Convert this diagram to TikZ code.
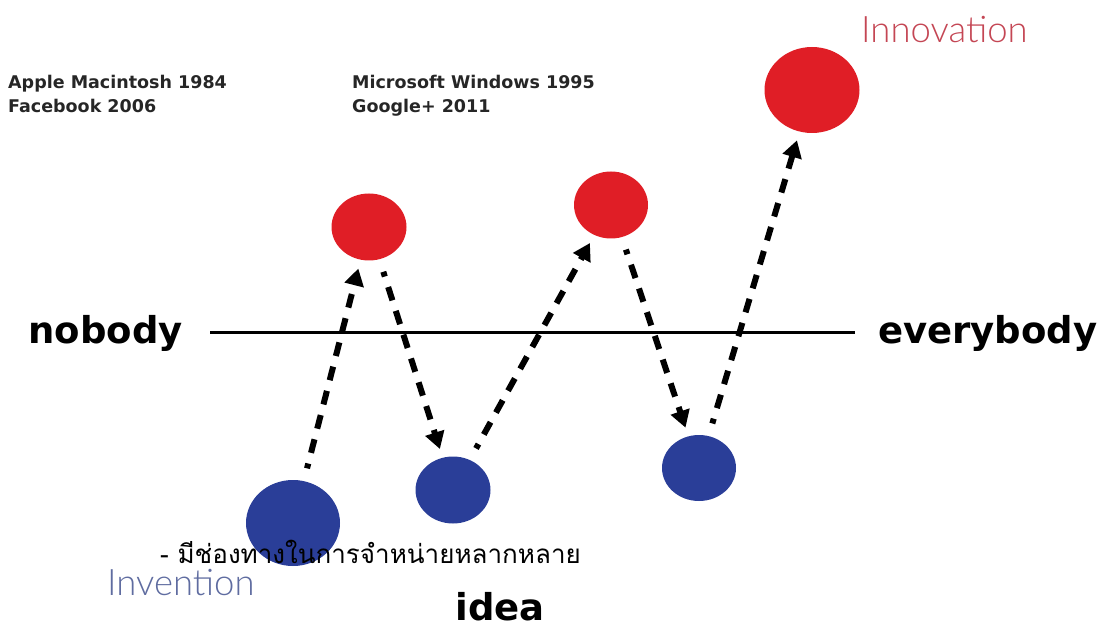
\documentclass[tikz,border=0pt]{standalone}
\usepackage{fontspec}
\setmainfont{Open Sans}
\newfontfamily\dejavu{DejaVu Sans}
\newfontfamily\thaifont[Script=Thai]{Loma}
\newfontfamily\lightfont{Lato Light}
\usetikzlibrary{arrows.meta,shapes.geometric}

\definecolor{rojo}{RGB}{224,30,38}
\definecolor{azul}{RGB}{42,62,152}
\definecolor{azulclaro}{RGB}{95,108,160}
\definecolor{rojoclaro}{RGB}{196,70,84}

\begin{document}
\begin{tikzpicture}[
    x=1pt, y=-1pt,
    puntorojo/.style ={ellipse, fill=rojo, inner sep=0pt},
    puntoazul/.style ={ellipse, fill=azul, inner sep=0pt},
    marca/.style     ={font=\dejavu\bfseries\fontsize{17.5}{24.5}\selectfont, align=left,
                       anchor=north west, inner sep=0pt, text=black!85},
    eje/.style       ={font=\dejavu\bfseries\fontsize{37}{40}\selectfont, inner sep=0pt},
    fina/.style      ={font=\lightfont\fontsize{36.5}{38}\selectfont, inner sep=0pt},
    fl/.style        ={-{Triangle[length=17pt,width=19pt]}, line width=6pt,
                       dash pattern=on 14pt off 11pt, dash phase=9pt,
                       shorten <=13pt, shorten >=9pt}
  ]
  \useasboundingbox (0,0) rectangle (1098,628);

  % --- textos de arriba ----------------------------------------------------
  \node[marca] (marca1) at (8,75)   {Apple Macintosh 1984\\Facebook 2006};
  \node[marca] (marca2) at (352,75) {Microsoft Windows 1995\\Google+ 2011};
  \node[fina, text=rojoclaro, anchor=west] (innovtxt) at (861,30) {Innovation};

  % --- eje nobody / everybody ---------------------------------------------
  \node[eje, anchor=east] (nobody)    at (183,333) {nobody};
  \node[eje, anchor=west] (everybody) at (878,333) {everybody};
  \draw[line width=3pt] ([xshift=27pt]nobody.east) -- ([xshift=-23pt]everybody.west);

  % --- puntos --------------------------------------------------------------
  \node[puntoazul, minimum width=94pt, minimum height=86pt] (inv)   at (293,523) {};
  \node[puntorojo, minimum width=75pt, minimum height=67pt] (r1)    at (369,227) {};
  \node[puntoazul, minimum width=75pt, minimum height=67pt] (b2)    at (453,490) {};
  \node[puntorojo, minimum width=74pt, minimum height=67pt] (r2)    at (611,205) {};
  \node[puntoazul, minimum width=74pt, minimum height=66pt] (b3)    at (699,468) {};
  \node[puntorojo, minimum width=95pt, minimum height=86pt] (innov) at (812,90)  {};

  \foreach \a/\b in {inv/r1, r1/b2, b2/r2, r2/b3, b3/innov} \draw[fl] (\a) -- (\b);

  % --- textos de abajo -----------------------------------------------------
  \node[fina, text=azulclaro, anchor=west] (invtxt) at (107,583) {Invention};
  \node[eje, anchor=base] (idea) at (500,620) {idea};
  \node[font=\thaifont\fontsize{26}{28}\selectfont, anchor=base west, inner sep=0pt] (nota)
    at (160,563) {- มีช่องทางในการจำหน่ายหลากหลาย};

\end{tikzpicture}
\end{document}
